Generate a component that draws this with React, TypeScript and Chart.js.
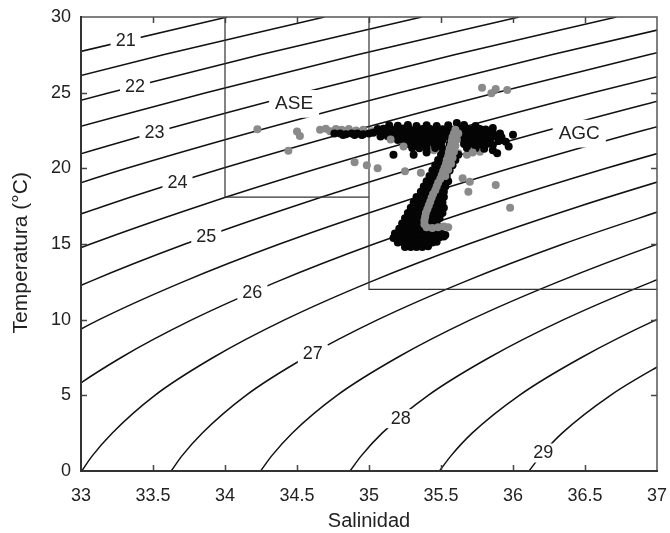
import React, { useEffect, useRef } from "react";
import { Chart, registerables } from "chart.js";

Chart.register(...registerables);

// ---- axis ranges / ticks ----
const salMin = 33;
const salMax = 37;
const salStep = 0.5;
const tempMin = 0;
const tempMax = 30;
const tempStep = 5;

// ---- isopycnals (sigma-t), points as [salinity, temperature] ----
const iso210 = [[32.898, 27.5], [34.015, 30]];
const iso215 = [[32.526, 25], [33.571, 27.5], [34.691, 30]];
const iso220 = [[32.223, 22.5], [33.197, 25], [34.245, 27.5], [35.366, 30]];
const iso225 = [[32.892, 22.5], [33.868, 25], [34.919, 27.5], [36.042, 30]];
const iso230 = [[32.652, 20], [33.56, 22.5], [34.54, 25], [35.593, 27.5], [36.718, 30]];
const iso235 = [[32.495, 17.5], [33.318, 20], [34.229, 22.5], [35.211, 25], [36.267, 27.5], [37.393, 30]];
const iso240 = [[32.411, 15], [33.156, 17.5], [33.984, 20], [34.897, 22.5], [35.882, 25], [36.941, 27.5], [38.07, 30]];
const iso245 = [[32.406, 12.5], [33.067, 15], [33.817, 17.5], [34.65, 20], [35.566, 22.5], [36.553, 25], [37.615, 27.5]];
const iso250 = [[32.481, 10], [33.057, 12.5], [33.723, 15], [34.479, 17.5], [35.316, 20], [36.234, 22.5], [37.224, 25]];
const iso255 = [[32.639, 7.5], [33.126, 10], [33.708, 12.5], [34.379, 15], [35.14, 17.5], [35.981, 20], [36.902, 22.5], [37.895, 25]];
const iso260 = [[32.591, 2.5], [32.88, 5], [33.279, 7.5], [33.772, 10], [34.359, 12.5], [35.035, 15], [35.802, 17.5], [36.647, 20], [37.571, 22.5]];
const iso265 = [[33.005, 0], [33.078, 1], [33.216, 2.5], [33.513, 5], [33.918, 7.5], [34.417, 10], [35.01, 12.5], [35.692, 15], [36.463, 17.5], [37.313, 20]];
const iso270 = [[33.626, 0], [33.701, 1], [33.841, 2.5], [34.146, 5], [34.558, 7.5], [35.062, 10], [35.661, 12.5], [36.348, 15], [37.124, 17.5]];
const iso275 = [[34.247, 0], [34.324, 1], [34.466, 2.5], [34.778, 5], [35.197, 7.5], [35.707, 10], [36.313, 12.5], [37.004, 15], [37.786, 17.5]];
const iso280 = [[34.868, 0], [34.946, 1], [35.091, 2.5], [35.411, 5], [35.836, 7.5], [36.352, 10], [36.964, 12.5], [37.66, 15]];
const iso285 = [[35.489, 0], [35.569, 1], [35.716, 2.5], [36.044, 5], [36.476, 7.5], [36.997, 10], [37.615, 12.5]];
const iso290 = [[36.111, 0], [36.192, 1], [36.341, 2.5], [36.677, 5], [37.115, 7.5]];

const isopycnals = [iso210, iso215, iso220, iso225, iso230, iso235, iso240, iso245, iso250, iso255, iso260, iso265, iso270, iso275, iso280, iso285, iso290];

// ---- contour labels ----
const isoLabelText = ["21", "22", "23", "24", "25", "26", "27", "28", "29"];
const isoLabelSal = [33.31, 33.375, 33.51, 33.67, 33.87, 34.19, 34.61, 35.22, 36.21];
const isoLabelTemp = [28.38, 25.36, 22.33, 19.0, 15.47, 11.76, 7.74, 3.46, 1.19];

// ---- water mass boxes and labels ----
const aseBox = [[34, 30], [34, 18.1], [35, 18.1]];
const agcBox = [[35, 30], [35, 12], [37, 12]];
const massText = ["ASE", "AGC"];
const massSal = [34.48, 36.46];
const massTemp = [24.26, 22.29];

// ---- observations (black) ----
const blackObs = [
  // vertical streak / bottom blob
  [35.25, 14.8], [35.29, 14.8], [35.33, 14.8], [35.37, 14.8], [35.41, 14.85],
  [35.2, 15.1], [35.24, 15.1], [35.28, 15.1], [35.32, 15.1], [35.36, 15.1], [35.4, 15.1], [35.44, 15.1], [35.47, 15.15],
  [35.17, 15.4], [35.21, 15.4], [35.25, 15.4], [35.29, 15.4], [35.33, 15.4], [35.37, 15.4], [35.41, 15.4], [35.45, 15.4], [35.49, 15.45], [35.52, 15.5],
  [35.18, 15.7], [35.22, 15.7], [35.26, 15.7], [35.3, 15.7], [35.34, 15.7], [35.38, 15.7], [35.42, 15.7], [35.46, 15.7], [35.5, 15.75],
  [35.21, 16.0], [35.25, 16.0], [35.29, 16.0], [35.33, 16.0], [35.37, 16.0], [35.41, 16.0], [35.45, 16.0],
  [35.23, 16.35], [35.27, 16.35], [35.31, 16.35], [35.35, 16.35], [35.39, 16.35], [35.43, 16.35], [35.47, 16.35],
  [35.25, 16.7], [35.29, 16.7], [35.33, 16.7], [35.37, 16.7], [35.41, 16.7], [35.45, 16.7], [35.49, 16.7],
  [35.27, 17.05], [35.31, 17.05], [35.35, 17.05], [35.39, 17.05], [35.43, 17.05], [35.47, 17.05], [35.51, 17.05],
  [35.29, 17.4], [35.33, 17.4], [35.37, 17.4], [35.41, 17.4], [35.45, 17.4], [35.49, 17.4], [35.52, 17.4],
  [35.31, 17.75], [35.35, 17.75], [35.39, 17.75], [35.43, 17.75], [35.47, 17.75], [35.51, 17.75],
  [35.33, 18.1], [35.37, 18.1], [35.41, 18.1], [35.45, 18.1], [35.49, 18.1], [35.52, 18.1],
  [35.36, 18.45], [35.4, 18.45], [35.44, 18.45], [35.48, 18.45], [35.52, 18.45],
  [35.38, 18.8], [35.42, 18.8], [35.46, 18.8], [35.5, 18.8], [35.53, 18.8],
  [35.4, 19.15], [35.44, 19.15], [35.48, 19.15], [35.52, 19.15], [35.55, 19.15],
  [35.42, 19.5], [35.46, 19.5], [35.5, 19.5], [35.54, 19.5],
  [35.44, 19.85], [35.48, 19.85], [35.52, 19.85], [35.56, 19.85],
  [35.46, 20.2], [35.5, 20.2], [35.54, 20.2], [35.58, 20.2],
  [35.48, 20.55], [35.52, 20.55], [35.56, 20.55], [35.6, 20.55],
  [35.5, 20.9], [35.54, 20.9], [35.58, 20.9], [35.62, 20.9],
  // upper horizontal cluster
  [35.14, 22.85], [35.2, 22.82], [35.27, 22.86], [35.33, 22.8], [35.4, 22.85], [35.47, 22.8], [35.55, 22.84], [35.61, 23.0], [35.66, 22.86], [35.74, 22.8],
  [35.06, 22.6], [35.1, 22.62], [35.15, 22.58], [35.19, 22.6], [35.24, 22.63], [35.28, 22.6], [35.33, 22.57], [35.37, 22.6], [35.42, 22.62], [35.46, 22.6], [35.51, 22.58], [35.56, 22.6],
  [35.63, 22.6], [35.68, 22.62], [35.72, 22.58], [35.77, 22.6], [35.81, 22.56], [35.86, 22.67],
  [35.03, 22.35], [35.08, 22.37], [35.12, 22.33], [35.17, 22.35], [35.21, 22.38], [35.26, 22.35], [35.3, 22.32], [35.35, 22.35], [35.39, 22.37], [35.44, 22.35], [35.48, 22.33], [35.53, 22.35],
  [35.58, 22.35], [35.64, 22.35], [35.68, 22.37], [35.73, 22.33], [35.77, 22.35], [35.82, 22.38], [35.86, 22.35], [35.91, 22.3],
  [35.08, 22.1], [35.13, 22.12], [35.17, 22.08], [35.22, 22.1], [35.26, 22.12], [35.31, 22.1], [35.35, 22.07], [35.4, 22.1], [35.44, 22.12], [35.49, 22.1], [35.53, 22.08],
  [35.58, 22.1], [35.65, 22.1], [35.69, 22.12], [35.74, 22.08], [35.78, 22.1], [35.83, 22.12], [35.87, 22.1], [35.92, 22.05], [36.0, 22.22],
  [35.2, 21.87], [35.24, 21.83], [35.29, 21.85], [35.33, 21.87], [35.38, 21.85], [35.42, 21.82], [35.47, 21.85], [35.51, 21.87],
  [35.57, 21.85], [35.66, 21.85], [35.7, 21.87], [35.75, 21.83], [35.79, 21.85], [35.84, 21.87], [35.9, 21.8], [35.95, 21.75],
  [35.27, 21.6], [35.31, 21.62], [35.36, 21.58], [35.4, 21.6], [35.45, 21.62], [35.5, 21.6],
  [35.56, 21.6], [35.66, 21.6], [35.71, 21.62], [35.76, 21.58], [35.81, 21.6], [35.86, 21.55], [35.97, 21.44],
  [35.3, 21.35], [35.35, 21.33], [35.4, 21.37], [35.46, 21.35], [35.51, 21.33], [35.57, 21.35], [35.68, 21.35], [35.74, 21.33], [35.8, 21.3], [35.86, 21.2],
  [35.17, 20.9], [35.31, 20.9], [35.4, 21.05], [35.89, 21.0],
  // inside ASE box
  [34.76, 22.3], [34.8, 22.3], [34.84, 22.25], [34.88, 22.3], [34.92, 22.3], [34.96, 22.25], [35.0, 22.3], [34.82, 22.2], [34.9, 22.2], [34.95, 22.2],
];
const blackFront = [[35.53, 15.6]];

// ---- observations (grey) ----
const greyBack = [
  [34.225, 22.58], [34.44, 21.17], [34.5, 22.43], [34.52, 22.14], [34.66, 22.55], [34.7, 22.62], [34.73, 22.45],
  [34.77, 22.6], [34.81, 22.55], [34.86, 22.6], [34.91, 22.5], [34.96, 22.55], [35.02, 22.45],
  [35.68, 20.9], [35.77, 21.1], [35.62, 21.0], [35.7, 22.4], [35.45, 21.2],
];
const greyFront = [
  // outliers
  [34.9, 20.4], [34.985, 20.2], [35.06, 20.0], [35.25, 19.8], [35.36, 19.7],
  [35.785, 25.33], [35.85, 24.96], [35.88, 25.25], [35.96, 25.18],
  [35.65, 19.35], [35.7, 19.12], [35.69, 18.46], [35.88, 18.9], [35.98, 17.4],
  [35.15, 21.9], [35.24, 21.45], [35.72, 21.05],
  // streak
  [35.6, 22.55], [35.59, 22.3], [35.58, 22.05], [35.575, 21.8], [35.57, 21.55], [35.56, 21.3], [35.555, 21.05],
  [35.55, 20.8], [35.54, 20.55], [35.535, 20.3], [35.525, 20.05], [35.515, 19.8], [35.505, 19.55], [35.495, 19.3],
  [35.48, 19.05], [35.47, 18.8], [35.46, 18.55], [35.445, 18.3], [35.435, 18.05], [35.425, 17.8], [35.415, 17.55],
  [35.405, 17.3], [35.395, 17.05], [35.39, 16.8], [35.385, 16.55], [35.385, 16.3], [35.4, 16.1], [35.44, 16.05],
  [35.48, 16.1], [35.52, 16.15], [35.55, 16.1],
  [35.62, 22.3], [35.61, 21.9], [35.6, 21.5], [35.59, 21.1], [35.58, 20.7], [35.57, 20.3], [35.55, 19.9], [35.53, 19.5],
];

const FONT = '"Liberation Sans", Arial, Helvetica, sans-serif';

const pts = (arr: number[][]) => arr.map(([s, t]) => ({ x: s, y: t }));

const labelsPlugin = {
  id: "isoLabels",
  afterDatasetsDraw(chart: any) {
    const { ctx, scales } = chart;
    const xs = scales.x;
    const ys = scales.y;
    const drawLabel = (txt: string, s: number, t: number, size: number, padX: number, padY: number) => {
      const px = xs.getPixelForValue(s);
      const py = ys.getPixelForValue(t);
      ctx.font = `${size}px ${FONT}`;
      const w = ctx.measureText(txt).width;
      const h = size * 0.72;
      ctx.fillStyle = "#ffffff";
      ctx.fillRect(px - w / 2 - padX, py - h / 2 - padY, w + 2 * padX, h + 2 * padY);
      ctx.fillStyle = "#222222";
      ctx.textAlign = "center";
      ctx.textBaseline = "middle";
      ctx.fillText(txt, px, py);
    };
    ctx.save();
    isoLabelText.forEach((txt, i) => drawLabel(txt, isoLabelSal[i], isoLabelTemp[i], 18, 5, 3));
    massText.forEach((txt, i) => drawLabel(txt, massSal[i], massTemp[i], 19, 6, 7));
    ctx.restore();
  },
};

const framePlugin = {
  id: "frame",
  afterDraw(chart: any) {
    const { ctx, chartArea, scales } = chart;
    const { left, right, top, bottom } = chartArea;
    ctx.save();
    ctx.strokeStyle = "#444444";
    ctx.lineWidth = 1.5;
    const tl = 6;
    scales.x.ticks.forEach((tk: any) => {
      const p = Math.round(scales.x.getPixelForValue(tk.value)) + 0.5;
      if (Math.abs(p - left) < 2 || Math.abs(p - right) < 2) return;
      ctx.beginPath();
      ctx.moveTo(p, bottom);
      ctx.lineTo(p, bottom - tl);
      ctx.moveTo(p, top);
      ctx.lineTo(p, top + tl);
      ctx.stroke();
    });
    scales.y.ticks.forEach((tk: any) => {
      const p = Math.round(scales.y.getPixelForValue(tk.value)) + 0.5;
      if (Math.abs(p - top) < 2 || Math.abs(p - bottom) < 2) return;
      ctx.beginPath();
      ctx.moveTo(left, p);
      ctx.lineTo(left + tl, p);
      ctx.moveTo(right, p);
      ctx.lineTo(right - tl, p);
      ctx.stroke();
    });
    ctx.strokeStyle = "#555555";
    ctx.lineWidth = 1.5;
    ctx.beginPath();
    ctx.moveTo(left, top);
    ctx.lineTo(right, top);
    ctx.lineTo(right, bottom);
    ctx.stroke();
    ctx.strokeStyle = "#333333";
    ctx.lineWidth = 2;
    ctx.beginPath();
    ctx.moveTo(left, top - 1);
    ctx.lineTo(left, bottom);
    ctx.lineTo(right + 1, bottom);
    ctx.stroke();
    ctx.restore();
  },
};

const dot = (label: string, data: number[][], color: string, order: number) => ({
  label,
  data: pts(data),
  showLine: false,
  pointRadius: 4,
  pointHoverRadius: 4,
  pointBorderWidth: 0,
  pointBackgroundColor: color,
  order,
});

export default function App() {
  const canvasRef = useRef<HTMLCanvasElement | null>(null);

  useEffect(() => {
    if (!canvasRef.current) return;
    const datasets: any[] = [];

    datasets.push(dot("grey front", greyFront, "#8a8a8a", 1));
    datasets.push(dot("black front", blackFront, "#050505", 2));
    datasets.push(dot("black", blackObs, "#050505", 3));
    datasets.push(dot("grey back", greyBack, "#8a8a8a", 4));
    [aseBox, agcBox].forEach((b, i) => {
      datasets.push({
        label: "box" + i,
        data: pts(b),
        showLine: true,
        pointRadius: 0,
        borderColor: "#333333",
        borderWidth: 1.2,
        tension: 0,
        order: 6,
      });
    });
    isopycnals.forEach((iso, i) => {
      datasets.push({
        label: "iso" + i,
        data: pts(iso),
        showLine: true,
        pointRadius: 0,
        borderColor: "#111111",
        borderWidth: 1.5,
        cubicInterpolationMode: "monotone",
        clip: 0,
        order: 10,
      });
    });

    const chart = new Chart(canvasRef.current, {
      type: "scatter",
      data: { datasets },
      plugins: [labelsPlugin, framePlugin],
      options: {
        animation: false,
        responsive: false,
        events: [],
        layout: { autoPadding: false, padding: { top: 17, right: 13, left: 0, bottom: 0 } },
        plugins: { legend: { display: false }, tooltip: { enabled: false } },
        scales: {
          x: {
            type: "linear",
            min: salMin,
            max: salMax,
            ticks: {
              stepSize: salStep,
              padding: 14,
              color: "#222222",
              font: { family: FONT, size: 18 },
              maxRotation: 0,
              autoSkip: false,
              callback: (v: any) => String(Number(v)),
            },
            grid: { display: false, drawTicks: false },
            border: { display: false },
            title: {
              display: true,
              text: "Salinidad",
              color: "#222222",
              font: { family: FONT, size: 20 },
              padding: { top: 0, bottom: 0 },
            },
            afterFit: (s: any) => {
              s.height = 62;
              s.paddingLeft = 0;
              s.paddingRight = 0;
              s.paddingTop = 0;
              s.paddingBottom = 0;
            },
          },
          y: {
            type: "linear",
            min: tempMin,
            max: tempMax,
            ticks: {
              stepSize: tempStep,
              padding: 10,
              color: "#222222",
              font: { family: FONT, size: 18 },
              callback: (v: any) => String(Number(v)),
            },
            grid: { display: false, drawTicks: false },
            border: { display: false },
            title: {
              display: true,
              text: "Temperatura (°C)\u00A0\u00A0\u00A0",
              color: "#222222",
              font: { family: FONT, size: 21 },
              padding: { top: 9, bottom: 0 },
            },
            afterFit: (s: any) => {
              s.width = 81;
              s.paddingLeft = 0;
              s.paddingRight = 0;
              s.paddingTop = 0;
              s.paddingBottom = 0;
            },
          },
        },
      },
    });
    return () => chart.destroy();
  }, []);

  return (
    <div style={{ position: "absolute", left: 0, top: 0, width: 670, height: 533, background: "#fff" }}>
      <canvas ref={canvasRef} width={670} height={533} style={{ display: "block" }} />
    </div>
  );
}
